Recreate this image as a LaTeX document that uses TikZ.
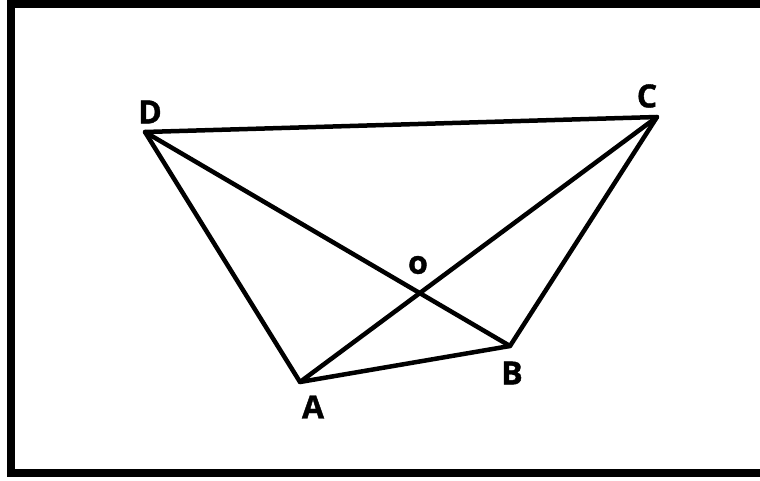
\documentclass[tikz,border=0pt]{standalone}
\usepackage{fontspec}
\setmainfont{Open Sans}[BoldFeatures={FakeBold=1.2}]
\begin{document}
\begin{tikzpicture}[x=1pt,y=-1pt,
  seg/.style={line width=4.5pt,line cap=round,line join=round},
  lbl/.style={font=\fontsize{32}{32}\selectfont\bfseries,inner sep=0pt}]
\useasboundingbox (0,0) rectangle (760,480);
\clip (0,0) rectangle (760,480);
\fill[white] (0,0) rectangle (760,480);
\draw[line width=8pt] (11,4) rectangle (770,473);
\coordinate (D) at (145,132);
\coordinate (C) at (657,117);
\coordinate (A) at (300,382);
\coordinate (B) at (510,346);
\draw[seg] (D) -- (C) -- (B) -- (A) -- cycle;
\draw[seg] (D) -- (B);
\draw[seg] (A) -- (C);
\node[lbl] (lD) at (150,112) {D};
\node[lbl] (lC) at (647,96) {C};
\node[lbl] (lA) at (313,407) {A};
\node[lbl] (lB) at (512,373) {B};
\node[lbl] (lO) at (418,265) {o};
\end{tikzpicture}
\end{document}
